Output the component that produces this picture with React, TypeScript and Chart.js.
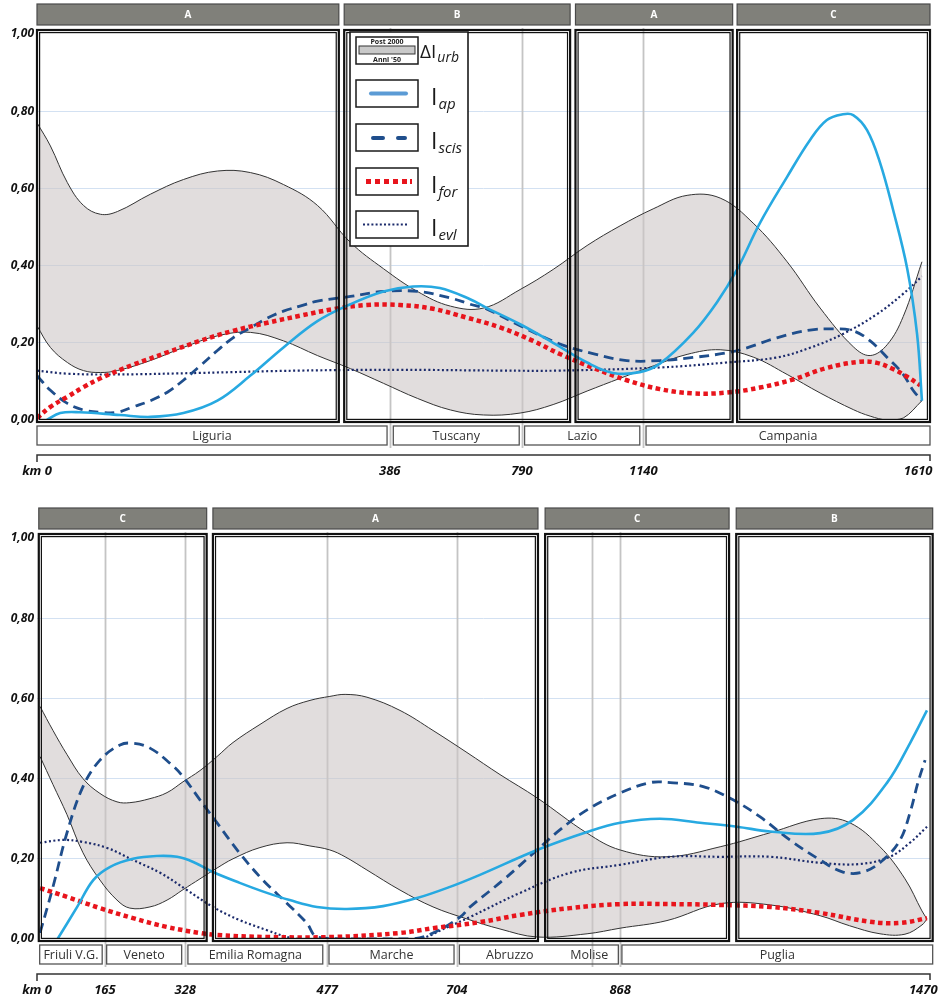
import React, { useEffect, useRef } from "react";
import { Chart, registerables } from "chart.js";

Chart.register(...registerables);

type Pt = [number, number];

// ================= TOP PANEL =================
const topTickPos = [0, 39.5, 54.3, 67.9, 100];
const topTickLabels = ["km 0", "386", "790", "1140", "1610"];
const topGuides = [39.5, 54.3, 67.9];
const topZoneStart = [0, 34.4, 60.3, 78.4];
const topZoneEnd = [33.8, 59.7, 77.9, 100];
const topZoneNames = ["A", "B", "A", "C"];
const topRegionNames = ["Liguria", "Tuscany", "Lazio", "Campania"];
const topRegionStart = [0, 39.9, 54.6, 68.2];
const topRegionEnd = [39.2, 54.0, 67.5, 100];

const topBandX = [0, 1.5, 3.4, 5.2, 7.1, 9, 12.7, 16.4, 20.2, 23.9, 27.6, 31.4, 35.1, 38.8, 42.6, 46.3, 50, 54.1, 57.8, 61.6, 65.3, 69, 72.8, 76.5, 80.2, 84, 87.7, 91.4, 93.3, 95.2, 97, 99.1];
const topPost2000 = [0.77, 0.71, 0.615, 0.556, 0.533, 0.54, 0.585, 0.623, 0.645, 0.641, 0.61, 0.556, 0.46, 0.392, 0.333, 0.295, 0.29, 0.338, 0.39, 0.452, 0.503, 0.547, 0.582, 0.575, 0.51, 0.41, 0.29, 0.19, 0.167, 0.195, 0.268, 0.41];
const topAnni50 = [0.244, 0.188, 0.149, 0.128, 0.123, 0.128, 0.154, 0.188, 0.218, 0.227, 0.205, 0.167, 0.133, 0.095, 0.056, 0.026, 0.013, 0.018, 0.04, 0.075, 0.108, 0.14, 0.17, 0.182, 0.163, 0.118, 0.07, 0.027, 0.01, 0, 0.005, 0.05];

const topAp: Pt[] = [[1.1, 0], [2.6, 0.018], [4.8, 0.02], [9.3, 0.013], [12.7, 0.008], [16.4, 0.018], [20.2, 0.05], [23.9, 0.115], [27.6, 0.188], [31.4, 0.256], [35.1, 0.3], [38.8, 0.333], [42.1, 0.346], [45.1, 0.342], [48.5, 0.313], [50.4, 0.29], [54.1, 0.248], [57.8, 0.2], [61.6, 0.149], [64.5, 0.122], [67.5, 0.124], [69.75, 0.146], [73.45, 0.225], [76.15, 0.305], [78.4, 0.39], [80.95, 0.51], [84, 0.63], [86.55, 0.725], [88.45, 0.777], [90.25, 0.792], [91.4, 0.79], [92.95, 0.751], [94.4, 0.667], [95.85, 0.546], [97.45, 0.392], [98.55, 0.223], [99.1, 0.05]];
const topScis: Pt[] = [[0, 0.115], [1.5, 0.077], [3.4, 0.043], [5.2, 0.026], [7.1, 0.02], [9, 0.02], [10.75, 0.034], [12.7, 0.05], [14.6, 0.072], [16.4, 0.103], [18.25, 0.14], [20.2, 0.18], [21.95, 0.213], [23.9, 0.239], [25.8, 0.264], [27.6, 0.282], [29.45, 0.295], [31.4, 0.308], [35.1, 0.32], [38.8, 0.333], [42.6, 0.333], [46.3, 0.316], [48.5, 0.3], [50.4, 0.287], [54.1, 0.244], [58.55, 0.197], [62.25, 0.172], [66.05, 0.154], [69.75, 0.154], [73.45, 0.162], [77.25, 0.174], [79.5, 0.187], [82.85, 0.213], [86.55, 0.233], [89.15, 0.236], [91.4, 0.231], [93.3, 0.205], [95.2, 0.162], [96.95, 0.12], [98.1, 0.077], [99.1, 0.05]];
const topFor: Pt[] = [[0, 0.005], [1.5, 0.034], [3.4, 0.06], [5.2, 0.085], [7.1, 0.108], [10.75, 0.143], [14.6, 0.175], [18.25, 0.205], [21.95, 0.231], [25.8, 0.252], [29.45, 0.27], [33.15, 0.287], [36.95, 0.298], [40.65, 0.298], [44.35, 0.288], [48.15, 0.265], [51.85, 0.24], [55.55, 0.205], [58.55, 0.171], [62.3, 0.135], [66.05, 0.103], [69.75, 0.08], [73.45, 0.069], [77.25, 0.071], [80.95, 0.084], [84.65, 0.105], [88.45, 0.135], [92.15, 0.151], [94.05, 0.148], [95.85, 0.132], [97.45, 0.112], [98.9, 0.09]];
const topEvl: Pt[] = [[0, 0.128], [3.4, 0.12], [9, 0.118], [18.25, 0.122], [29.45, 0.128], [40.65, 0.13], [52, 0.128], [58.55, 0.128], [69.75, 0.136], [77.25, 0.149], [82.85, 0.162], [86.55, 0.187], [90.25, 0.223], [94.05, 0.274], [96.95, 0.326], [99.1, 0.372]];

// ================= BOTTOM PANEL =================
const botTickPos = [0, 7.6, 16.6, 32.5, 47.0, 65.3, 100];
const botTickLabels = ["km 0", "165", "328", "477", "704", "868", "1470"];
const botGuides = [7.6, 16.6, 32.5, 47.0, 62.1, 65.3];
const botZoneStart = [0.2, 19.7, 56.9, 78.3];
const botZoneEnd = [19.0, 56.1, 77.5, 100.3];
const botZoneNames = ["C", "A", "C", "B"];
const botRegionNames = ["Friuli V.G.", "Veneto", "Emilia Romagna", "Marche", "Abruzzo", "Molise", "Puglia"];
const botRegionStart = [0.3, 7.8, 16.9, 32.7, 47.3, 58.6, 65.5];
const botRegionEnd = [7.3, 16.2, 32.0, 46.7, 58.6, 65.1, 100.3];

const botBandX = [0.34, 1.79, 3.36, 5.15, 7.05, 8.96, 10.4, 12.65, 14.56, 16.35, 18.25, 20.16, 21.95, 24.97, 28, 30.57, 32.8, 34.5, 36.95, 40.65, 44.35, 48.15, 51.85, 56, 61.6, 65.3, 70.55, 76.5, 82.1, 87.7, 91, 94.4, 97.2, 99.1, 99.66];
const botPost2000 = [0.58, 0.52, 0.46, 0.4, 0.363, 0.342, 0.34, 0.35, 0.365, 0.392, 0.42, 0.455, 0.49, 0.535, 0.575, 0.595, 0.605, 0.61, 0.603, 0.57, 0.52, 0.465, 0.41, 0.352, 0.264, 0.222, 0.205, 0.23, 0.265, 0.3, 0.29, 0.23, 0.15, 0.07, 0.05];
const botAnni50 = [0.455, 0.385, 0.31, 0.215, 0.147, 0.097, 0.077, 0.08, 0.097, 0.123, 0.15, 0.177, 0.2, 0.228, 0.24, 0.232, 0.222, 0.205, 0.172, 0.122, 0.08, 0.05, 0.025, 0.005, 0.013, 0.027, 0.046, 0.088, 0.085, 0.058, 0.033, 0.013, 0.012, 0.035, 0.05];

const botAp: Pt[] = [[2.3, 0], [4.5, 0.08], [6.3, 0.147], [8.2, 0.18], [10.75, 0.2], [13.4, 0.207], [15.7, 0.205], [17.5, 0.192], [19.7, 0.167], [22.7, 0.14], [25.75, 0.115], [28.3, 0.097], [31.35, 0.08], [34.7, 0.075], [38.75, 0.082], [42.55, 0.102], [46.25, 0.13], [49.6, 0.16], [56, 0.222], [61.6, 0.267], [65.3, 0.29], [69.75, 0.3], [74.25, 0.29], [78.4, 0.28], [82.1, 0.268], [87.7, 0.264], [91.4, 0.297], [95.2, 0.39], [97.8, 0.49], [99.66, 0.57]];
const botScis: Pt[] = [[0.34, 0.015], [1.79, 0.13], [3.36, 0.265], [5.15, 0.38], [7.05, 0.446], [9.3, 0.484], [10.75, 0.488], [12.65, 0.476], [14.9, 0.438], [16.35, 0.405], [18.25, 0.347], [20.15, 0.29], [22.7, 0.214], [25.3, 0.147], [27.95, 0.09], [30.2, 0.04], [31.35, 0.005], [35, 0], [42, 0], [44.35, 0.015], [47.4, 0.055], [48.5, 0.08], [52.2, 0.147], [56, 0.222], [58.55, 0.272], [61.6, 0.322], [65.3, 0.364], [68.65, 0.39], [70.9, 0.39], [74.6, 0.38], [77.95, 0.347], [80.95, 0.305], [84.3, 0.247], [87.7, 0.197], [90.25, 0.167], [92.5, 0.167], [94.75, 0.197], [96.65, 0.247], [97.75, 0.314], [98.65, 0.39], [99.45, 0.446]];
const botFor: Pt[] = [[0.34, 0.127], [3.36, 0.105], [7.05, 0.077], [10.75, 0.052], [14.55, 0.03], [18.25, 0.015], [20.15, 0.01], [25.75, 0.005], [33.15, 0.005], [40.65, 0.015], [44.35, 0.027], [49.6, 0.042], [54.1, 0.06], [59.7, 0.077], [65.3, 0.087], [70.9, 0.087], [76.5, 0.085], [82.1, 0.08], [87.7, 0.065], [93.3, 0.043], [96.65, 0.04], [99.66, 0.052]];
const botEvl: Pt[] = [[0.34, 0.24], [2.9, 0.247], [5.15, 0.242], [7.85, 0.227], [10.75, 0.197], [13.8, 0.165], [16.8, 0.122], [19.7, 0.08], [22.7, 0.047], [25.75, 0.022], [28, 0.005], [29.5, 0], [42.5, 0], [46, 0.03], [48.5, 0.055], [54.1, 0.115], [59.7, 0.165], [65.3, 0.185], [70.9, 0.205], [76.5, 0.205], [82.1, 0.205], [87.7, 0.19], [92.15, 0.187], [95.5, 0.205], [97.75, 0.24], [99.66, 0.28]];

// ================= styles =================
const C_AP = "#27a9e1";
const C_SCIS = "#1f4e8c";
const C_FOR = "#e8141c";
const C_EVL = "#1b2a6b";
const C_BAND = "rgba(205,198,198,0.6)";
const FONT = "'Open Sans', 'DejaVu Sans', sans-serif";
const TENSION = 0.38;

interface Panel {
  height: number;
  padTop: number;
  plotBottom: number;
  lastLabelShift: number;
  tickPos: number[];
  tickLabels: string[];
  guides: number[];
  zoneStart: number[];
  zoneEnd: number[];
  zoneNames: string[];
  regionNames: string[];
  regionStart: number[];
  regionEnd: number[];
  bandX: number[];
  post: number[];
  anni: number[];
  ap: Pt[];
  scis: Pt[];
  fore: Pt[];
  evl: Pt[];
  legend: boolean;
}

const topPanel: Panel = {
  height: 490, padTop: 34, plotBottom: 420, lastLabelShift: 7,
  tickPos: topTickPos, tickLabels: topTickLabels, guides: topGuides,
  zoneStart: topZoneStart, zoneEnd: topZoneEnd, zoneNames: topZoneNames,
  regionNames: topRegionNames, regionStart: topRegionStart, regionEnd: topRegionEnd,
  bandX: topBandX, post: topPost2000, anni: topAnni50,
  ap: topAp, scis: topScis, fore: topFor, evl: topEvl, legend: true,
};
const botPanel: Panel = {
  height: 507, padTop: 48, plotBottom: 449, lastLabelShift: 4,
  tickPos: botTickPos, tickLabels: botTickLabels, guides: botGuides,
  zoneStart: botZoneStart, zoneEnd: botZoneEnd, zoneNames: botZoneNames,
  regionNames: botRegionNames, regionStart: botRegionStart, regionEnd: botRegionEnd,
  bandX: botBandX, post: botPost2000, anni: botAnni50,
  ap: botAp, scis: botScis, fore: botFor, evl: botEvl, legend: false,
};

function curve(label: string, pts: Pt[], color: string, width: number, dash: number[]) {
  return {
    label,
    data: pts.map(([x, y]) => ({ x, y })),
    borderColor: color,
    borderWidth: width,
    borderDash: dash,
    borderCapStyle: "butt",
    pointRadius: 0,
    pointHoverRadius: 0,
    fill: false,
    tension: TENSION,
  };
}

function drawSub(ctx: CanvasRenderingContext2D, main: string, sub: string, x: number, base: number, mainSize: number, subSize: number) {
  ctx.fillStyle = "#1a1a1a";
  ctx.textAlign = "left";
  ctx.textBaseline = "alphabetic";
  ctx.font = `${mainSize}px ${FONT}`;
  ctx.fillText(main, x, base);
  const w = ctx.measureText(main).width;
  ctx.font = `italic ${subSize}px ${FONT}`;
  ctx.fillText(sub, x + w + 1, base + 4);
}

function drawLegend(ctx: CanvasRenderingContext2D) {
  const L = 350, T = 32, W = 118, H = 214;
  ctx.save();
  ctx.fillStyle = "#fff";
  ctx.fillRect(L, T, W, H);
  ctx.strokeStyle = "#1a1a1a";
  ctx.lineWidth = 1.6;
  ctx.strokeRect(L, T, W, H);
  const sx = 356, sw = 62, sh = 27;
  const rows = [37, 80, 124, 168, 211];
  ctx.lineWidth = 1.5;
  rows.forEach((r) => ctx.strokeRect(sx, r, sw, sh));
  // row 1: band swatch
  ctx.fillStyle = "#222";
  ctx.font = `bold 7px ${FONT}`;
  ctx.textAlign = "center";
  ctx.textBaseline = "middle";
  ctx.fillText("Post 2000", sx + sw / 2, 42);
  ctx.fillStyle = "#c9c9c9";
  ctx.fillRect(sx + 3, 46, sw - 6, 8);
  ctx.strokeStyle = "#333";
  ctx.lineWidth = 1;
  ctx.strokeRect(sx + 3, 46, sw - 6, 8);
  ctx.fillStyle = "#222";
  ctx.fillText("Anni '50", sx + sw / 2, 59.5);
  // row 2: Iap
  ctx.strokeStyle = "#5b9bd5";
  ctx.lineWidth = 4;
  ctx.lineCap = "round";
  ctx.beginPath();
  ctx.moveTo(371, 93.5);
  ctx.lineTo(406, 93.5);
  ctx.stroke();
  // row 3: Iscis
  ctx.strokeStyle = C_SCIS;
  ctx.beginPath();
  ctx.moveTo(373, 138);
  ctx.lineTo(383, 138);
  ctx.moveTo(398, 138);
  ctx.lineTo(405, 138);
  ctx.stroke();
  ctx.lineCap = "butt";
  // row 4: Ifor
  ctx.fillStyle = C_FOR;
  [366, 375, 384, 393, 402].forEach((x) => ctx.fillRect(x, 179, 5, 5));
  ctx.fillRect(410, 179, 2, 5);
  // row 5: Ievl
  ctx.strokeStyle = C_EVL;
  ctx.lineWidth = 2;
  ctx.setLineDash([2, 2.2]);
  ctx.beginPath();
  ctx.moveTo(363, 224.5);
  ctx.lineTo(409, 224.5);
  ctx.stroke();
  ctx.setLineDash([]);
  // labels
  drawSub(ctx, "ΔI", "urb", 420, 58, 19, 14);
  drawSub(ctx, "I", "ap", 431, 105, 23, 15);
  drawSub(ctx, "I", "scis", 431, 149, 23, 15);
  drawSub(ctx, "I", "for", 431, 193, 23, 15);
  drawSub(ctx, "I", "evl", 431, 236, 23, 15);
  ctx.restore();
}

function decoPlugin(p: Panel) {
  return {
    id: "deco",
    beforeDatasetsDraw(chart: any) {
      const { ctx, chartArea, scales } = chart;
      const xs = scales.x;
      ctx.save();
      ctx.strokeStyle = "#c4c4c4";
      ctx.lineWidth = 1.8;
      p.guides.forEach((g) => {
        const x = Math.round(xs.getPixelForValue(g)) + 0.5;
        ctx.beginPath();
        ctx.moveTo(x, chartArea.top - 6);
        ctx.lineTo(x, chartArea.bottom + 28);
        ctx.stroke();
      });
      ctx.restore();
    },
    afterDatasetsDraw(chart: any) {
      const { ctx, chartArea, scales } = chart;
      const xs = scales.x;
      const ys = scales.y;
      const y0 = ys.getPixelForValue(0);
      const boxTop = chartArea.top - 4;
      const boxBot = y0 + 2;
      ctx.save();
      // frames + headers
      p.zoneStart.forEach((s, i) => {
        const x1 = xs.getPixelForValue(s);
        const x2 = xs.getPixelForValue(p.zoneEnd[i]);
        ctx.strokeStyle = "#111";
        ctx.lineWidth = 2.2;
        ctx.strokeRect(x1, boxTop, x2 - x1, boxBot - boxTop);
        ctx.lineWidth = 1.2;
        ctx.strokeRect(x1 + 2.6, boxTop + 2.6, x2 - x1 - 5.2, boxBot - boxTop - 5.2);
        // header
        const hy = boxTop - 26;
        ctx.fillStyle = "#80807a";
        ctx.fillRect(x1, hy, x2 - x1, 21);
        ctx.strokeStyle = "#4a4a4a";
        ctx.lineWidth = 1.2;
        ctx.strokeRect(x1, hy, x2 - x1, 21);
        ctx.fillStyle = "#ffffff";
        ctx.font = `bold 10px ${FONT}`;
        ctx.textAlign = "center";
        ctx.textBaseline = "middle";
        ctx.fillText(p.zoneNames[i], (x1 + x2) / 2, hy + 11);
      });
      // region label boxes (merge contiguous spans)
      const ry1 = y0 + 6;
      const ry2 = y0 + 25;
      const boxes: [number, number][] = [];
      p.regionStart.forEach((s, i) => {
        const e = p.regionEnd[i];
        const last = boxes[boxes.length - 1];
        if (last && Math.abs(last[1] - s) < 1e-6) last[1] = e;
        else boxes.push([s, e]);
      });
      ctx.strokeStyle = "#555";
      ctx.lineWidth = 1.3;
      boxes.forEach(([s, e]) => {
        const x1 = xs.getPixelForValue(s);
        const x2 = xs.getPixelForValue(e);
        ctx.strokeRect(x1, ry1, x2 - x1, ry2 - ry1);
      });
      ctx.fillStyle = "#333";
      ctx.font = `12.5px ${FONT}`;
      ctx.textAlign = "center";
      ctx.textBaseline = "middle";
      p.regionNames.forEach((n, i) => {
        const xc = (xs.getPixelForValue(p.regionStart[i]) + xs.getPixelForValue(p.regionEnd[i])) / 2;
        ctx.fillText(n, xc, (ry1 + ry2) / 2 + 0.5);
      });
      // km axis line
      const ay = y0 + 35;
      const ax1 = xs.getPixelForValue(p.tickPos[0]);
      const ax2 = xs.getPixelForValue(p.tickPos[p.tickPos.length - 1]);
      ctx.strokeStyle = "#333";
      ctx.lineWidth = 1.5;
      ctx.beginPath();
      ctx.moveTo(ax1, ay + 7);
      ctx.lineTo(ax1, ay);
      ctx.lineTo(ax2, ay);
      ctx.lineTo(ax2, ay + 6);
      ctx.stroke();
      ctx.restore();
      if (p.legend) drawLegend(ctx);
    },
  };
}

function buildConfig(p: Panel): any {
  const n = p.tickLabels.length;
  return {
    type: "line",
    data: {
      datasets: [
        curve("Iap", p.ap, C_AP, 2.6, []),
        curve("Ifor", p.fore, C_FOR, 4.5, [4.5, 3.5]),
        curve("Iscis", p.scis, C_SCIS, 2.8, [10, 6]),
        curve("Ievl", p.evl, C_EVL, 2.2, [2, 2.5]),
        {
          label: "Anni '50",
          data: p.bandX.map((x, i) => ({ x, y: p.anni[i] })),
          borderColor: "#333",
          borderWidth: 1,
          pointRadius: 0,
          fill: false,
          tension: TENSION,
        },
        {
          label: "Post 2000",
          data: p.bandX.map((x, i) => ({ x, y: p.post[i] })),
          borderColor: "#333",
          borderWidth: 1,
          pointRadius: 0,
          fill: "-1",
          backgroundColor: C_BAND,
          tension: TENSION,
        },
      ],
    },
    options: {
      animation: false,
      responsive: false,
      devicePixelRatio: 1,
      events: [],
      layout: { padding: { top: p.padTop, right: 17, left: 0, bottom: 0 } },
      plugins: { legend: { display: false }, tooltip: { enabled: false } },
      scales: {
        x: {
          type: "linear",
          min: 0,
          max: 100,
          afterBuildTicks: (s: any) => {
            s.ticks = p.tickPos.map((v) => ({ value: v }));
          },
          afterFit: (s: any) => {
            s.height = p.height - p.plotBottom;
            s.paddingLeft = 0;
            s.paddingRight = 0;
          },
          ticks: {
            autoSkip: false,
            maxRotation: 0,
            minRotation: 0,
            padding: 43,
            color: "#111",
            font: { family: FONT, size: 13, style: "italic", weight: "bold" },
            callback: (_v: any, i: number) =>
              i === n - 1 ? p.tickLabels[i] + "\u00a0".repeat(p.lastLabelShift) : p.tickLabels[i],
          },
          grid: { display: false, drawTicks: false },
          border: { display: false },
        },
        y: {
          min: 0,
          max: 1,
          afterFit: (s: any) => {
            s.width = 37;
          },
          ticks: {
            stepSize: 0.2,
            padding: 3,
            color: "#111",
            font: { family: FONT, size: 12, style: "italic", weight: "bold" },
            callback: (v: any) => Number(v).toFixed(2).replace(".", ","),
          },
          grid: {
            drawTicks: false,
            lineWidth: 1,
            color: (c: any) =>
              c.tick && c.tick.value > 0.01 && c.tick.value < 0.99 ? "#d3e1f2" : "rgba(0,0,0,0)",
          },
          border: { display: false },
        },
      },
    },
    plugins: [decoPlugin(p)],
  };
}

function PanelChart({ p }: { p: Panel }) {
  const ref = useRef<HTMLCanvasElement>(null);
  useEffect(() => {
    if (!ref.current) return;
    const chart = new Chart(ref.current, buildConfig(p));
    return () => chart.destroy();
  }, [p]);
  return (
    <canvas
      ref={ref}
      width={947}
      height={p.height}
      style={{ display: "block", width: 947, height: p.height }}
    />
  );
}

export default function App() {
  return (
    <div style={{ position: "absolute", left: 0, top: 0, width: 947, height: 997, background: "#ffffff" }}>
      <PanelChart p={topPanel} />
      <PanelChart p={botPanel} />
    </div>
  );
}
